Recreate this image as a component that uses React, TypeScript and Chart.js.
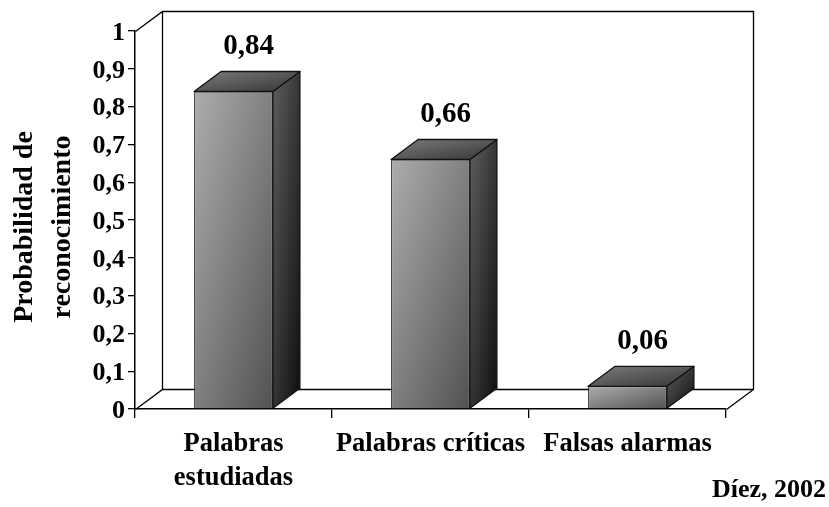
import React, { useEffect, useRef } from "react";
import { Chart, registerables } from "chart.js";

Chart.register(...registerables);

const categories: (string | string[])[] = [["Palabras", "estudiadas"], "Palabras críticas", "Falsas alarmas"];
const values = [0.84, 0.66, 0.06];
const valueLabels = ["0,84", "0,66", "0,06"];
const yAxisLines = ["Probabilidad de", "reconocimiento"];
const sourceNote = "Díez, 2002";
const FONT = "'Liberation Serif', 'Times New Roman', serif";
const DX = 27;
const DY = 20;

// Gradient whose colour bands run along the box's anti-diagonal, so that the
// start and end colours land exactly on opposite corners of any box shape.
function faceGradient(ctx: CanvasRenderingContext2D, x0: number, y0: number, x1: number, y1: number, stops: string[]) {
  const w = Math.abs(x1 - x0) || 1;
  const h = Math.abs(y1 - y0) || 1;
  const cx = (x0 + x1) / 2;
  const cy = (y0 + y1) / 2;
  const len = Math.hypot(w, h);
  const sx = Math.sign(x1 - x0) || 1;
  const sy = Math.sign(y1 - y0) || 1;
  const half = (w * h) / len;
  const ux = (sx * h) / len;
  const uy = (sy * w) / len;
  const g = ctx.createLinearGradient(cx - ux * half, cy - uy * half, cx + ux * half, cy + uy * half);
  stops.forEach((c, i) => g.addColorStop(i / (stops.length - 1), c));
  return g;
}

const box3d = {
  id: "box3d",
  beforeDatasetsDraw(chart: any) {
    const { ctx, chartArea: a } = chart;
    ctx.save();
    ctx.strokeStyle = "#000";
    ctx.lineWidth = 1.3;
    ctx.beginPath();
    ctx.moveTo(a.left + 0.5, a.top + 0.5);
    ctx.lineTo(a.left + DX + 0.5, a.top - DY + 0.5);
    ctx.lineTo(a.right + DX + 0.5, a.top - DY + 0.5);
    ctx.lineTo(a.right + DX + 0.5, a.bottom - DY + 0.5);
    ctx.lineTo(a.right + 0.5, a.bottom + 0.5);
    ctx.moveTo(a.left + 0.5, a.bottom + 0.5);
    ctx.lineTo(a.left + DX + 0.5, a.bottom - DY + 0.5);
    ctx.lineTo(a.right + DX + 0.5, a.bottom - DY + 0.5);
    ctx.moveTo(a.left + DX + 0.5, a.top - DY + 0.5);
    ctx.lineTo(a.left + DX + 0.5, a.bottom - DY + 0.5);
    ctx.stroke();
    ctx.restore();
  },
  afterDatasetsDraw(chart: any) {
    const { ctx } = chart;
    const meta = chart.getDatasetMeta(0);
    ctx.save();
    meta.data.forEach((bar: any, i: number) => {
      const left = bar.x - bar.width / 2;
      const right = bar.x + bar.width / 2;
      const top = bar.y;
      const bottom = bar.base;
      ctx.strokeStyle = "#111";
      ctx.lineWidth = 1.3;
      ctx.lineJoin = "round";
      ctx.beginPath();
      ctx.moveTo(right, top);
      ctx.lineTo(right + DX, top - DY);
      ctx.lineTo(right + DX, bottom - DY);
      ctx.lineTo(right, bottom);
      ctx.closePath();
      ctx.fillStyle = faceGradient(ctx, right, top - DY, right + DX, bottom, ["#5e5e5e", "#0e0e0e"]);
      ctx.fill();
      ctx.stroke();
      ctx.beginPath();
      ctx.moveTo(left, top);
      ctx.lineTo(left + DX, top - DY);
      ctx.lineTo(right + DX, top - DY);
      ctx.lineTo(right, top);
      ctx.closePath();
      ctx.fillStyle = faceGradient(ctx, left, top - DY, right + DX, top, ["#7c7c7c", "#353535"]);
      ctx.fill();
      ctx.stroke();
      ctx.fillStyle = "#000";
      ctx.font = `bold 29px ${FONT}`;
      ctx.textAlign = "center";
      ctx.textBaseline = "middle";
      ctx.fillText(valueLabels[i], bar.x + 15, top - DY - 25);
    });
    ctx.fillStyle = "#000";
    ctx.font = `bold 28px ${FONT}`;
    ctx.textAlign = "center";
    ctx.textBaseline = "middle";
    yAxisLines.forEach((line, i) => {
      ctx.save();
      ctx.translate(25 + i * 38, 227);
      ctx.rotate(-Math.PI / 2);
      ctx.fillText(line, 0, 0);
      ctx.restore();
    });
    ctx.textAlign = "right";
    ctx.font = `bold 26px ${FONT}`;
    ctx.fillText(sourceNote, 826, 490);
    ctx.restore();
  },
};

export default function App() {
  const ref = useRef<HTMLCanvasElement>(null);
  useEffect(() => {
    document.body.style.margin = "0";
    const chart = new Chart(ref.current!, {
      type: "bar",
      data: {
        labels: categories as any,
        datasets: [
          {
            data: values,
            barPercentage: 0.4,
            categoryPercentage: 1,
            borderColor: "#222",
            borderWidth: 1,
            backgroundColor: (c: any) => {
              const { chart: ch, dataIndex } = c;
              const x = ch.scales?.x;
              const y = ch.scales?.y;
              if (!x || !y || dataIndex === undefined || !ch.chartArea) return "#888";
              const cx = x.getPixelForValue(dataIndex);
              const w = 0.4 * (ch.chartArea.width / categories.length);
              return faceGradient(ch.ctx, cx - w / 2, y.getPixelForValue(values[dataIndex]), cx + w / 2, y.getPixelForValue(0), [
                "#adadad",
                "#525252",
              ]);
            },
          },
        ],
      },
      plugins: [box3d],
      options: {
        animation: false,
        responsive: false,
        layout: { autoPadding: false, padding: { top: 31, right: 103, bottom: 0, left: 0 } },
        plugins: { legend: { display: false }, tooltip: { enabled: false }, title: { display: false } },
        scales: {
          x: {
            afterFit: (s: any) => {
              s.height = 98;
            },
            grid: { display: true, drawOnChartArea: false, drawTicks: true, tickLength: 9, color: "#000", lineWidth: 1.3, offset: true },
            border: { color: "#000", width: 1.5 },
            ticks: {
              color: "#000",
              font: { family: FONT, size: 26.5, weight: "bold", lineHeight: 1.28 },
              maxRotation: 0,
              autoSkip: false,
              padding: 9,
            },
          },
          y: {
            min: 0,
            max: 1,
            afterFit: (s: any) => {
              s.width = 135;
            },
            grid: { display: true, drawOnChartArea: false, drawTicks: true, tickLength: 7, color: "#000", lineWidth: 1.3 },
            border: { color: "#000", width: 1.5 },
            ticks: {
              stepSize: 0.1,
              color: "#000",
              font: { family: FONT, size: 26, weight: "bold" },
              padding: 3,
              labelOffset: 2,
              callback: (v: any) => String(Math.round(Number(v) * 10) / 10).replace(".", ","),
            },
          },
        },
      },
    });
    return () => chart.destroy();
  }, []);
  return <canvas ref={ref} width={829} height={507} style={{ display: "block", width: 829, height: 507 }} />;
}
